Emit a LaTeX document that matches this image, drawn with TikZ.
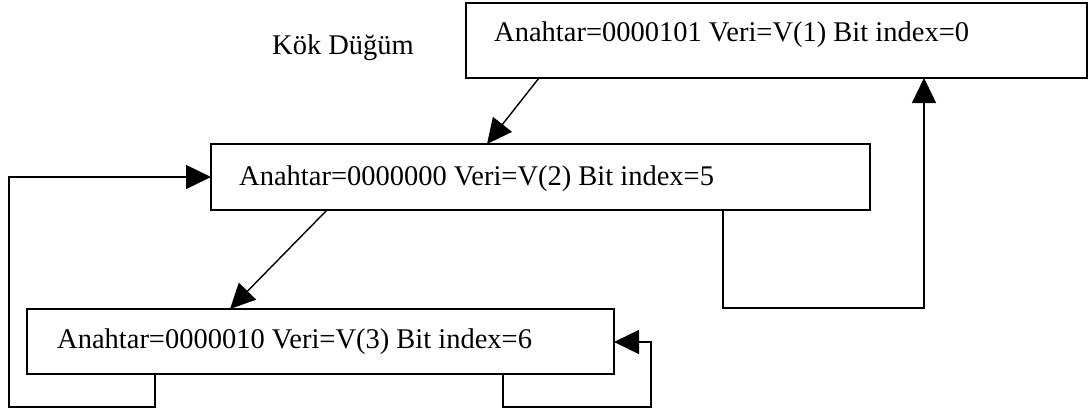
\documentclass[tikz,border=0pt]{standalone}
\usepackage{fontspec}
\setmainfont{Liberation Serif}
\usetikzlibrary{arrows.meta}
\begin{document}
\begin{tikzpicture}[x=1pt,y=-1pt,
  box/.style={draw,line width=1.6pt,rectangle,inner sep=0pt,outer sep=0pt},
  lbl/.style={anchor=base west,inner sep=0pt,font=\fontsize{28.5}{34}\selectfont},
  conn/.style={line width=1.4pt,-{Triangle[length=25pt,width=24pt]}},
  seg/.style={line width=1.4pt}]
\useasboundingbox[fill=white] (0,0) rectangle (1089,412);
% boxes
\node[box,minimum width=621pt,minimum height=75pt] (n1) at (776.5,40.5) {};
\node[box,minimum width=659pt,minimum height=66pt] (n2) at (540.5,177) {};
\node[box,minimum width=587pt,minimum height=65pt] (n3) at (320.5,341.5) {};
% texts
\node[lbl] (t1) at (494,42) {Anahtar=0000101 Veri=V(1) Bit index=0};
\node[lbl] (t2) at (239,185) {Anahtar=0000000 Veri=V(2) Bit index=5};
\node[lbl] (t3) at (57,348) {Anahtar=0000010 Veri=V(3) Bit index=6};
\node[lbl] (kok) at (272,55) {Kök Düğüm};
% connector points
\coordinate (a1) at (539,78);
\coordinate (a2) at (487,144);
\coordinate (b1) at (327,210);
\coordinate (b2) at (230,309);
\coordinate (c1) at (723,210);
\coordinate (c2) at (723,308);
\coordinate (c3) at (924,308);
\coordinate (c4) at (924,78);
\coordinate (d1) at (155,374);
\coordinate (d2) at (155,407);
\coordinate (d3) at (9,407);
\coordinate (d4) at (9,177);
\coordinate (d5) at (211,177);
\coordinate (e1) at (503,374);
\coordinate (e2) at (503,407);
\coordinate (e3) at (651,407);
\coordinate (e4) at (651,342);
\coordinate (e5) at (614,342);
% connectors
\draw[conn] (a1) -- (a2);
\draw[conn] (b1) -- (b2);
\draw[conn] (c1) -- (c2) -- (c3) -- (c4);
\draw[conn] (d1) -- (d2) -- (d3) -- (d4) -- (d5);
\draw[conn] (e1) -- (e2) -- (e3) -- (e4) -- (e5);
\end{tikzpicture}
\end{document}
